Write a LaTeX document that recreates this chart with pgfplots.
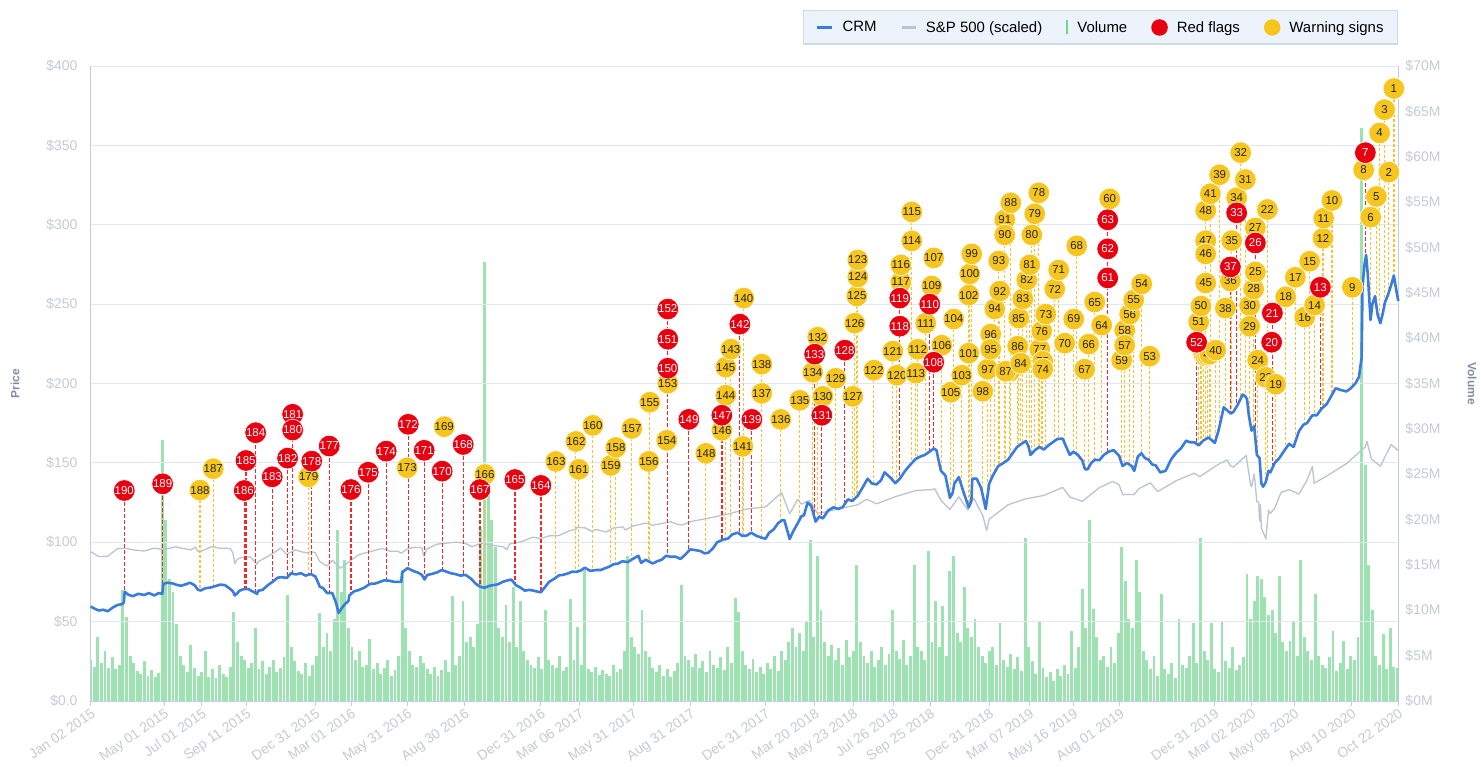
\documentclass[border=0pt]{standalone}
\usepackage{pgfplots}
\pgfplotsset{compat=1.18}
\usepackage{pgfplotstable}
\usepackage{fontspec}
\setmainfont{Liberation Sans}
\definecolor{crm}{RGB}{58,124,222}
\definecolor{spx}{RGB}{186,196,212}
\definecolor{vol}{RGB}{112,214,142}
\definecolor{flag}{RGB}{232,0,16}
\definecolor{flagstem}{RGB}{240,40,40}
\definecolor{warn}{RGB}{246,198,30}
\definecolor{warnstem}{RGB}{245,195,50}
\definecolor{gridc}{RGB}{226,232,240}
\definecolor{axisc}{RGB}{192,206,228}
\definecolor{tickc}{RGB}{196,203,215}
\definecolor{labc}{RGB}{132,142,162}
\definecolor{legfill}{RGB}{236,243,251}
\definecolor{legdraw}{RGB}{205,218,236}

% columns: x = trading day, y = label position (price), lo = stem foot (price), lab = number
\pgfplotstableread{
x y lo lab
37.5 132.6 68 190
80.4 136.8 73.7 189
171.6 132.6 70.5 186
173.5 151.5 70.5 185
184.3 169.0 68 184
202.8 141.2 75 183
220.0 153.0 77.6 182
225.6 180.6 80.5 181
225.6 170.7 170.7 180
246.9 151.1 80 178
266.5 160.6 68 177
290.8 133.2 67 176
310.1 144.1 73 175
330.2 157.4 76 174
354.8 174.3 83.7 172
372.6 157.9 77.5 171
392.7 144.8 82.5 170
416.2 161.6 79.2 168
434.9 133.2 72 167
474.0 139.5 73.5 165
503.0 135.8 68.5 164
644.8 246.9 91.3 152
644.8 227.9 227.9 151
644.8 209.6 209.6 150
668.3 177.4 94.5 149
705.2 180.0 101.3 147
725.3 237.4 105.1 142
738.7 177.4 106 139
808.9 218.5 116 133
816.9 180.0 115.5 131
842.6 221.0 124 128
904.0 253.8 140 119
904.0 236.1 236.1 118
937.5 250.0 157 110
941.9 213.4 159 108
1136.3 303.1 157 63
1136.3 284.8 284.8 62
1136.3 266.5 266.5 61
1235.7 226.0 162 52
1273.4 273.4 181.3 37
1280.4 307.5 185 33
1301.3 288.5 166 26
1320.3 244.4 147 21
1319.5 226.0 226.0 20
1373.9 260.6 182.5 13
1424.2 345.4 278 7
}\redtab

\pgfplotstableread{
x y lo lab
122.1 132.8 70 188
136.9 146.3 72 187
243.5 141.2 79.5 179
353.6 146.9 146.9 173
395.0 172.8 172.8 169
440.4 142.7 71.3 166
519.7 150.9 77.5 163
542.1 163.5 81.3 162
545.4 145.9 81.5 161
561.1 173.6 82.5 160
581.2 148.4 85.2 159
586.8 159.7 86.3 158
604.6 171.7 89.2 157
623.6 150.9 88.2 156
624.7 188.2 87.9 155
643.7 164.2 164.2 154
644.8 200.2 200.2 153
687.3 156.0 93.2 148
705.2 170.5 170.5 146
709.6 210.3 101.9 145
709.6 192.6 192.6 144
715.2 221.6 104 143
728.6 160.4 104.1 141
729.7 253.8 104.1 140
749.8 212.2 103 138
749.8 193.8 193.8 137
771.1 177.4 113.3 136
792.3 189.4 115 135
806.8 207.1 119 134
812.3 229.2 114.5 132
818.0 191.9 191.9 130
832.5 203.3 121.5 129
851.5 191.9 126 127
853.7 238.0 128 126
856.0 255.1 128 125
857.1 267.1 267.1 124
857.1 277.8 128 123
875.0 208.4 136.8 122
896.2 220.4 139 121
900.7 205.2 138 120
905.2 263.9 263.9 117
905.2 274.7 274.7 116
917.4 308.1 150.5 115
917.4 289.8 289.8 114
921.9 206.5 152.4 113
924.1 221.6 153 112
933.0 238.0 155.5 111
939.7 261.4 261.4 109
941.9 279.1 279.1 107
950.9 224.1 145 106
961.0 194.5 129 105
964.3 240.6 135 104
973.2 205.2 135 103
981.1 255.7 125 102
981.1 219.1 219.1 101
982.2 269.0 125 100
984.4 281.6 125 99
996.7 195.1 130 98
1002.3 209.0 126 97
1005.6 231.1 138.5 96
1005.6 221.6 221.6 95
1010.1 246.9 144.5 94
1014.6 277.2 148 93
1015.7 258.2 148 92
1021.3 303.1 150.5 91
1021.3 293.6 293.6 90
1026.9 207.7 153 89
1028.0 313.8 154 88
1022.4 207.7 151 87
1035.8 223.5 160 86
1036.9 241.2 160.5 85
1039.1 212.8 161.5 84
1041.4 253.2 162.5 83
1045.9 265.2 163 82
1049.2 274.7 157 81
1051.5 293.6 156 80
1054.8 306.9 158 79
1059.3 320.1 160 78
1060.4 221.6 160 77
1062.6 233.0 159 76
1063.7 214.0 159 75
1063.7 209.0 209.0 74
1067.1 243.7 159.5 73
1077.1 259.5 164 72
1081.6 271.5 165 71
1088.3 225.4 162 70
1098.4 240.6 157 69
1101.7 286.7 156 68
1110.6 209.0 147 67
1115.1 224.8 147 66
1121.8 251.3 151.8 65
1129.6 236.8 154 64
1138.6 316.3 316.3 60
1151.9 214.7 150 59
1155.3 233.6 149 58
1155.3 224.1 224.1 57
1160.9 243.7 149 56
1165.4 252.6 146 55
1174.3 262.7 156 54
1183.2 217.2 151.7 53
1238.0 238.7 161 51
1240.5 248.8 162 50
1243.6 218.5 165 49
1245.8 308.9 165 48
1245.8 290.0 290.0 47
1245.8 281.6 281.6 46
1245.8 263.3 263.3 45
1245.8 217.2 217.2 44
1248.0 217.8 165 43
1250.3 218.5 165 42
1251.0 319.5 166 41
1257.0 221.0 163 40
1261.4 331.5 173 39
1267.8 247.5 184.5 38
1273.4 264.6 264.6 36
1274.8 290.0 181.5 35
1280.4 317.0 317.0 34
1284.9 345.4 190 32
1290.1 328.5 192 31
1294.9 249.0 180 30
1294.9 236.1 236.1 29
1299.4 259.5 172 28
1301.3 298.0 298.0 27
1301.3 270.2 270.2 25
1303.9 214.7 155 24
1312.8 203.9 137.5 23
1314.7 309.6 141 22
1324.0 199.5 149.5 19
1335.2 254.6 158.8 18
1346.0 266.9 162 17
1356.4 241.8 174 16
1362.0 277.0 176 15
1367.5 249.4 180 14
1376.8 291.5 184.6 12
1377.6 304.1 184.6 11
1386.9 315.3 192 10
1409.7 260.6 198.5 9
1422.3 334.6 334.6 8
1430.1 304.8 241 6
1436.5 317.8 250 5
1440.1 357.8 239.5 4
1445.7 372.5 249.5 3
1450.5 333.2 257 2
1456.1 385.8 268 1
}\warntab

\begin{document}
\begin{tikzpicture}
\fill[white] (0,0) rectangle (1481bp,767bp);
\path[use as bounding box] (0,0) rectangle (1481bp,767bp);

% ---------------- volume axis (right)
\begin{axis}[
  at={(90.7bp,66bp)}, anchor=south west, scale only axis,
  width=1307.6bp, height=635bp,
  xmin=0, xmax=1461, ymin=0, ymax=70,
  axis x line=none, axis y line*=right,
  axis line style={draw=axisc, line width=1bp},
  ytick={0,5,10,15,20,25,30,35,40,45,50,55,60,65,70},
  yticklabels={\$0M,\$5M,\$10M,\$15M,\$20M,\$25M,\$30M,\$35M,\$40M,\$45M,\$50M,\$55M,\$60M,\$65M,\$70M},
  yticklabel style={font=\fontsize{14}{16}\selectfont, text=tickc, anchor=west, inner sep=0pt, xshift=7bp},
  ytick style={draw=none},
  ylabel={Volume},
  every axis y label/.style={at={(axis description cs:1.0564,0.5)}, rotate=-90, anchor=center, font=\bfseries\fontsize{12}{14}\selectfont, text=labc},
]
\addplot[ycomb, draw=vol, line width=2.9bp, opacity=0.68] coordinates {
(0,4.5)(4,3.8)(8,7.0)(12,4.2)(16,5.5)(20,3.6)(24,4.8)(28,3.5)(32,4.0)(36,12.2)(40,9.3)(44,5.0)(48,4.2)(52,3.3)(56,3.0)(60,4.4)(64,2.8)(68,3.4)(72,2.6)(76,3.1)
(80,28.8)(84,20.0)(88,13.5)(92,12.0)(96,8.5)(100,5.0)(104,4.0)(108,3.2)(112,6.2)(116,3.6)(120,2.8)(124,3.2)(128,5.5)(132,2.7)(136,3.5)(140,2.5)(144,4.0)(148,3.0)(152,2.6)(156,3.8)
(160,9.8)(164,6.5)(168,5.0)(172,4.5)(176,3.6)(180,4.2)(184,8.0)(188,3.5)(192,4.4)(196,3.0)(200,3.8)(204,4.5)(208,3.2)(212,3.6)(216,4.8)(220,11.7)(224,6.0)(228,4.4)(232,3.3)(236,3.0)
(240,4.2)(244,2.8)(248,4.0)(252,5.0)(256,9.7)(260,6.0)(264,7.5)(268,5.5)(272,9.0)(276,18.8)(280,12.0)(284,15.5)(288,8.0)(292,6.0)(296,4.5)(300,5.5)(304,3.8)(308,4.0)(312,6.8)(316,3.5)
(320,4.2)(324,3.0)(328,3.6)(332,4.5)(336,2.8)(340,3.4)(344,5.0)(348,14.4)(352,8.0)(356,5.5)(360,4.0)(364,3.8)(368,5.0)(372,4.2)(376,3.5)(380,3.0)(384,3.8)(388,2.8)(392,3.4)(396,4.5)
(400,3.2)(404,11.6)(408,4.0)(412,5.0)(416,11.0)(420,6.5)(424,7.0)(428,6.0)(432,8.5)(436,19.0)(440,48.4)(444,24.0)(448,20.0)(452,17.0)(456,8.0)(460,7.0)(464,10.6)(468,6.5)(472,12.6)(476,6.0)
(480,11.0)(484,5.5)(488,4.5)(492,4.0)(496,3.6)(500,4.8)(504,3.5)(508,10.0)(512,4.5)(516,4.0)(520,3.6)(524,5.0)(528,3.3)(532,3.8)(536,11.2)(540,4.5)(544,8.2)(548,4.0)(552,14.4)(556,3.5)
(560,3.2)(564,3.8)(568,2.9)(572,3.4)(576,3.0)(580,2.8)(584,4.0)(588,3.2)(592,3.5)(596,5.5)(600,16.0)(604,7.0)(608,6.0)(612,5.2)(616,10.0)(620,5.5)(624,4.8)(628,3.6)(632,3.2)(636,4.0)
(640,2.8)(644,3.5)(648,2.6)(652,3.3)(656,4.2)(660,12.8)(664,5.0)(668,4.5)(672,3.8)(676,5.2)(680,3.6)(684,4.4)(688,3.2)(692,5.5)(696,4.0)(700,3.6)(704,4.8)(708,3.4)(712,5.9)(716,4.2)
(720,11.4)(724,9.8)(728,5.5)(732,4.0)(736,3.5)(740,4.6)(744,3.2)(748,3.8)(752,3.0)(756,4.2)(760,3.5)(764,5.0)(768,3.3)(772,5.5)(776,4.5)(780,6.5)(784,8.0)(788,6.0)(792,7.5)(796,5.5)
(800,8.7)(804,17.7)(808,7.0)(812,16.0)(816,10.0)(820,6.5)(824,5.0)(828,6.2)(832,4.5)(836,5.8)(840,4.0)(844,6.7)(848,4.8)(852,5.5)(856,15.0)(860,6.5)(864,5.0)(868,4.2)(872,5.5)(876,3.8)
(880,4.5)(884,6.0)(888,4.0)(892,5.2)(896,10.0)(900,5.5)(904,4.6)(908,6.7)(912,4.0)(916,5.0)(920,15.0)(924,6.0)(928,5.5)(932,4.5)(936,16.5)(940,6.5)(944,11.0)(948,6.0)(952,10.5)(956,5.0)
(960,14.3)(964,16.0)(968,7.5)(972,6.5)(976,12.6)(980,8.0)(984,7.0)(988,9.0)(992,6.0)(996,5.0)(1000,4.2)(1004,5.5)(1008,5.9)(1012,4.0)(1016,8.6)(1020,4.5)(1024,3.8)(1028,5.2)(1032,3.5)(1036,4.8)
(1040,3.3)(1044,18.0)(1048,6.0)(1052,4.4)(1056,3.0)(1060,8.8)(1064,3.6)(1068,2.6)(1072,3.2)(1076,2.2)(1080,3.5)(1084,2.8)(1088,4.0)(1092,3.0)(1096,7.7)(1100,3.6)(1104,6.0)(1108,12.3)(1112,8.0)(1116,20.0)
(1120,10.1)(1124,7.0)(1128,4.5)(1132,5.0)(1136,3.8)(1140,6.0)(1144,4.2)(1148,7.5)(1152,17.0)(1156,13.2)(1160,9.0)(1164,8.0)(1168,15.5)(1172,12.0)(1176,5.5)(1180,4.5)(1184,3.5)(1188,5.0)(1192,2.8)(1196,11.8)
(1200,3.5)(1204,3.0)(1208,4.2)(1212,2.5)(1216,9.0)(1220,4.0)(1224,3.6)(1228,5.0)(1232,8.6)(1236,4.2)(1240,18.0)(1244,5.5)(1248,4.5)(1252,8.6)(1256,3.5)(1260,3.2)(1264,8.8)(1268,4.4)(1272,3.6)(1276,6.0)
(1280,3.4)(1284,4.0)(1288,4.8)(1292,14.0)(1296,9.0)(1300,11.0)(1304,13.8)(1308,13.5)(1312,11.5)(1316,9.5)(1320,10.0)(1324,7.5)(1328,13.8)(1332,6.5)(1336,5.5)(1340,6.6)(1344,8.8)(1348,5.0)(1352,15.5)(1356,7.0)
(1360,5.5)(1364,4.5)(1368,11.8)(1372,5.0)(1376,4.0)(1380,3.6)(1384,4.8)(1388,7.7)(1392,3.3)(1396,4.2)(1400,6.6)(1404,3.5)(1408,5.0)(1412,4.5)(1416,7.0)(1420,63.2)(1424,26.0)(1428,15.0)(1432,10.0)(1436,5.0)
(1440,4.0)(1444,7.4)(1448,3.5)(1452,8.0)(1456,3.8)(1460,3.6)
};
\end{axis}

% ---------------- price axis (left)
\begin{axis}[
  at={(90.7bp,66bp)}, anchor=south west, scale only axis,
  width=1307.6bp, height=635bp,
  xmin=0, xmax=1461, ymin=0, ymax=400, clip=false,
  axis x line*=bottom, axis y line*=left,
  axis line style={draw=axisc, line width=1bp},
  ytick={0,50,100,150,200,250,300,350,400},
  yticklabels={\$0.0,\$50,\$100,\$150,\$200,\$250,\$300,\$350,\$400},
  ymajorgrids, grid style={draw=gridc, line width=0.9bp},
  yticklabel style={font=\fontsize{14}{16}\selectfont, text=tickc, anchor=east, inner sep=0pt, xshift=-8bp},
  ytick style={draw=none},
  xtick={0,82,124,174,251,291,354,418,503,546,606,670,754,809,852,897,938,1004,1049,1098,1150,1256,1297,1345,1409,1461},
  xticklabels={Jan 02 2015,May 01 2015,Jul 01 2015,Sep 11 2015,Dec 31 2015,Mar 01 2016,May 31 2016,Aug 30 2016,Dec 31 2016,Mar 06 2017,May 31 2017,Aug 31 2017,Dec 31 2017,Mar 20 2018,May 23 2018,Jul 26 2018,Sep 25 2018,Dec 31 2018,Mar 07 2019,May 16 2019,Aug 01 2019,Dec 31 2019,Mar 02 2020,May 08 2020,Aug 10 2020,Oct 22 2020},
  xticklabel style={font=\fontsize{14}{16}\selectfont, text=tickc, rotate=35, anchor=north east, inner sep=1bp},
  xtick style={draw=axisc, line width=1bp},
  tick align=outside, major tick length=5bp,
  ylabel={Price},
  every axis y label/.style={at={(axis description cs:-0.0578,0.5)}, rotate=90, anchor=center, font=\bfseries\fontsize{12}{14}\selectfont, text=labc},
  legend columns=5,
  legend cell align=left,
  legend style={at={(1,1.0882)}, anchor=north east, fill=legfill, draw=legdraw, line width=1.5bp,
    font=\fontsize{15}{17}\selectfont, inner xsep=12bp, inner ysep=8.5bp,
    /tikz/every odd column/.append style={column sep=7bp},
    /tikz/every even column/.append style={column sep=22bp}},
]
\addlegendimage{crm, line width=3.2bp, legend image code/.code={\draw (0bp,0bp) -- (15bp,0bp);}}
\addlegendentry{CRM}
\addlegendimage{spx, line width=2.4bp, legend image code/.code={\draw (0bp,0bp) -- (14bp,0bp);}}
\addlegendentry{S\&P 500 (scaled)}
\addlegendimage{vol, line width=2.2bp, legend image code/.code={\draw (7bp,-7bp) -- (7bp,7bp);}}
\addlegendentry{Volume}
\addlegendimage{flag, legend image code/.code={\fill (7bp,0bp) circle (7.5bp);}}
\addlegendentry{Red flags}
\addlegendimage{warn, legend image code/.code={\fill (7bp,0bp) circle (7.5bp);}}
\addlegendentry{Warning signs}

% S&P 500 scaled
\addplot[forget plot, draw=spx, line width=1.3bp, line join=round] coordinates {
(0,94.05)(9,91.0)(19,91.2)(30,96.0)(38,96.2)(49,95.1)(60,94.5)(71,96.3)(81,95.3)(95,97.1)(101,96.3)(112,95.2)(117,97.0)(120,94.05)(123,94.3)(135,97.2)(145,96.2)(156,96.1)(159,93.0)(161,86.5)(163,88.7)(166,90.1)(178,90.9)(186,86.1)(187,87.7)(198,91.1)(209,95.0)(212,96.4)(219,92.5)(229,95.1)(237,93.8)(242,93.3)(246,94.1)(251,93.4)
(256,87.8)(264,85.0)(270,88.7)(279,83.6)(290,88.3)(300,92.3)(312,94.1)(326,96.1)(334,94.4)(343,94.3)(347,93.2)(354,95.8)(361,96.8)(370,96.6)(372,91.4)(376,95.9)(387,98.8)(397,99.4)(408,100.1)(419,99.2)(426,97.2)(437,99.5)(440,99.1)(452,97.8)(461,97.2)(465,95.3)(468,98.9)(482,100.5)(494,103.2)(503,102.3)
(512,104.0)(523,104.2)(535,107.3)(542,108.0)(543,109.5)(553,109.0)(559,107.0)(565,108.0)(576,106.4)(584,109.0)(595,109.7)(597,107.7)(606,110.2)(620,112.1)(628,110.7)(648,112.9)(655,111.4)(661,110.8)(670,113.0)(690,115.1)(712,117.7)(733,121.0)(754,122.2)
(772,131.3)(781,118.0)(790,127.0)(794,124.0)(803,126.4)(812,118.3)(820,119.0)(835,121.0)(857,123.6)(867,127.1)(878,124.2)(899,128.7)(922,132.6)(941,133.2)(943,133.7)(950,126.4)(960,120.7)(964,123.9)(970,128.6)(980,120.3)(985,126.1)(987,127.5)(997,116.4)(1001,107.4)(1004,114.6)
(1015,119.3)(1025,123.6)(1044,127.2)(1065,129.5)(1086,134.6)(1094,128.5)(1108,125.8)(1127,134.4)(1142,138.3)(1149,136.2)(1153,130.0)(1166,130.1)(1171,133.7)(1184,137.4)(1192,131.9)(1213,138.8)(1233,143.5)(1239,141.3)(1256,147.7)
(1264,150.3)(1270,151.8)(1273,148.3)(1277,147.4)(1291,154.7)(1296,136.1)(1297,135.0)(1300,143.0)(1303,125.5)(1305,125.3)(1306,113.4)(1307,123.9)(1308,109.0)(1313,102.2)(1316,120.2)(1318,118.1)(1323,121.5)(1330,131.4)(1339,133.1)(1350,130.3)(1359,139.1)(1365,147.7)(1367,137.2)(1381,141.7)(1403,149.5)(1424,160.0)(1426,163.6)(1431,152.3)(1441,147.9)(1446,153.7)(1453,161.5)(1461,157.8)
};

% stems
\addplot[forget plot, draw=none, error bars/.cd, y dir=minus, y explicit, error mark=none,
  error bar style={draw=warnstem, line width=1.2bp, line cap=butt, dash pattern=on 3bp off 2bp}]
  table[x=x, y=y, y error minus expr=\thisrow{y}-\thisrow{lo}] {\warntab};
\addplot[forget plot, draw=none, error bars/.cd, y dir=minus, y explicit, error mark=none,
  error bar style={draw=flagstem, line width=1.3bp, line cap=butt, dash pattern=on 4bp off 2bp}]
  table[x=x, y=y, y error minus expr=\thisrow{y}-\thisrow{lo}] {\redtab};

% CRM
\addplot[forget plot, draw=crm, line width=2.6bp, line join=round] coordinates {
(0,59.5)(5,58)(9,57)(14,57.5)(19,56.5)(25,59)(30,60.5)(35,61)(37,62)(38,68.8)(42,67)(47,66)(53,67.5)(60,66.8)(65,68)(71,66.5)(76,68)(80,67.5)(81,73.7)(86,74.5)(92,74)(97,73)(101,72.6)(106,73.5)(111,74.5)(116,73)(120,70)(123,69.6)(128,71)(134,71.5)(140,72.5)(145,73.3)(150,73)(155,71)(159,69)(161,66.5)(164,68)(166,69.4)(171,70.5)(176,70.5)(181,69)(186,67.5)(187,69.4)(192,70)(198,73)(203,75)(209,77.7)(214,78)(219,77.5)(224,80.5)(229,79.7)(235,80.5)(240,79)(246,80)(251,78.4)
(253,76)(256,72)(260,71)(264,68)(270,68)(274,62)(277,55.5)(280,58)(284,61)(288,63)(289,66.5)(294,69)(300,70)(306,71.5)(312,73.8)(318,74)(323,75)(328,76)(333,75.8)(340,75)(347,75)(348,81)(354,83.7)(360,82)(365,81)(370,79.5)(373,76.5)(376,79.4)(381,80)(387,81)(392,82.5)(396,81.8)(402,80.5)(407,80)(413,79)(419,79.4)(425,77)(430,74)(435,72)(440,71.3)(445,72.5)(450,73)(455,73.5)(461,75.2)(466,76)(470,76.5)(475,73)(480,71.5)(485,69.5)(490,70)(495,69.5)(500,68.8)(503,68.5)
(508,72)(512,75)(518,77)(523,79.1)(528,79.5)(534,80.5)(538,81.5)(542,81.3)(547,82)(552,84)(558,82)(565,82.5)(570,82.5)(574,83.5)(579,84.5)(584,86.1)(589,86.5)(594,88)(600,87.5)(606,89.6)(612,91.5)(615,87)(620,89)(628,86.6)(633,88)(638,89)(643,91.5)(648,90.8)(653,91)(659,89.5)(664,92)(670,95.5)(676,95)(681,94.5)(686,93)(690,93.4)(695,96)(700,100)(706,101.5)(712,102.3)(717,105)(723,106)(728,104)(733,104.2)(738,106)(744,104)(749,103)(754,102.2)
(758,106)(763,108)(768,112)(773,114)(775,113.9)(778,108)(781,102)(785,107)(790,112)(794,116.3)(797,117)(801,125)(805,123)(810,113)(814,116.3)(818,115)(824,120)(830,122)(835,121)(840,122)(846,127)(851,126)(857,129.3)(862,134)(868,140)(873,137)(878,136.4)(883,139)(887,144)(893,141)(899,137.2)(904,140)(910,145)(916,149)(922,152.6)(927,154)(932,155)(937,157)(942,159)(945,158)(948,150)(950,145)(955,142)(960,128)(963,131)(965,137)(970,141)(975,132)(981,122)(984,126)(985,140)(990,140)(995,134)(1000,121)(1004,137)
(1008,142)(1014,148)(1020,150)(1025,152)(1030,156)(1035,160)(1040,162)(1045,163.8)(1048,160)(1050,155)(1055,158)(1060,160)(1065,158.4)(1070,161)(1075,163)(1080,165)(1086,165.3)(1090,160)(1094,155)(1098,157)(1103,155)(1108,151.4)(1111,146)(1114,146)(1118,150)(1122,152)(1127,151.7)(1132,155)(1137,157)(1143,158)(1149,154.5)(1153,148)(1158,150)(1163,148)(1166,145)(1170,154)(1174,156)(1178,153)(1182,152)(1186,149)(1190,148.4)(1195,144)(1201,145)(1207,152)(1213,156.5)(1218,159)(1224,164)(1228,163)(1233,163)(1238,161)(1243,164)(1249,166)(1256,162.6)
(1260,170)(1266,185)(1270,183)(1274,181)(1277,182.3)(1282,187)(1287,193)(1290,192)(1292,190)(1294,180)(1297,170.3)(1300,173)(1303,155)(1306,153)(1308,137)(1310,135)(1313,138)(1316,145)(1318,144)(1323,150)(1328,153)(1334,158)(1339,162)(1344,160)(1350,170)(1355,174)(1359,175)(1365,180)(1370,180)(1375,184)(1381,187)(1386,192)(1391,197)(1396,196)(1403,195)(1408,197)(1413,200)(1417,204)(1420,216)(1421,260.5)(1423,274)(1425,281)(1427,268)(1430,240)(1432,250)(1435,255)(1438,243)(1441,238)(1444,245)(1446,251)(1449,255)(1453,262)(1456,268)(1459,258)(1461,252)
};

% markers
\addplot[forget plot, only marks, mark=*, mark size=10.8bp,
  mark options={fill=warn, draw=white, line width=0.6bp},
  point meta=explicit symbolic, nodes near coords, nodes near coords align=center,
  every node near coord/.append style={font=\fontsize{11.5}{12}\selectfont, text=black!85, inner sep=0pt}]
  table[x=x, y=y, meta=lab] {\warntab};
\addplot[forget plot, only marks, mark=*, mark size=10.8bp,
  mark options={fill=flag, draw=white, line width=0.6bp},
  point meta=explicit symbolic, nodes near coords, nodes near coords align=center,
  every node near coord/.append style={font=\fontsize{11.5}{12}\selectfont, text=white, inner sep=0pt}]
  table[x=x, y=y, meta=lab] {\redtab};
\end{axis}
\end{tikzpicture}
\end{document}
